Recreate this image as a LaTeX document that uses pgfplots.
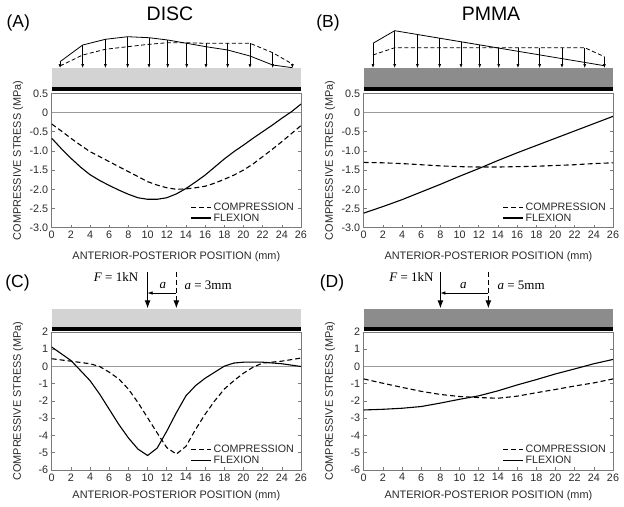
\documentclass[border=0pt]{standalone}
\usepackage{fontspec}
\setmainfont{Liberation Sans}
\newfontfamily\timesfont{Liberation Serif}
\usepackage{pgfplots}
\pgfplotsset{compat=1.18}
\usetikzlibrary{arrows.meta}
\definecolor{txt}{HTML}{2A2A2A}
\definecolor{frame}{HTML}{7A7A7A}
\definecolor{zeroline}{HTML}{9A9A9A}
\definecolor{lightblock}{HTML}{D3D3D3}
\definecolor{darkblock}{HTML}{8C8C8C}
\pgfplotsset{
  stressaxis/.style={
    scale only axis, width=249.3bp,
    xmin=0, xmax=26, xtick={0,2,...,26},
    axis line style={frame, line width=0.6bp},
    every tick/.style={frame, line width=0.6bp},
    major tick length=3bp, tick align=inside,
    xtick pos=left, ytick pos=both,
    ticklabel style={font=\fontsize{10.8bp}{12bp}\selectfont, text=txt},
    /pgf/number format/assume math mode=true,
    xlabel={ANTERIOR-POSTERIOR POSITION (mm)},
    ylabel={COMPRESSIVE STRESS (MPa)},
    label style={font=\fontsize{10.9bp}{12bp}\selectfont, text=txt},
    ylabel style={at={(axis description cs:-0.135,0.5)}, anchor=center},
    legend style={draw=none, fill=none, font=\fontsize{10.7bp}{11bp}\selectfont, text=txt,
      at={(axis description cs:1,0)}, anchor=south east, xshift=-5bp, yshift=3bp,
      row sep=-2.5bp, inner sep=0pt},
    legend image code/.code={\draw[#1] (0bp,0bp) -- (20bp,0bp);},
    legend cell align=left,
  },
  diagaxis/.style={
    scale only axis, width=249.3bp, hide axis, clip=false,
    xmin=0, xmax=26,
  },
  solidcurve/.style={black, line width=1.1bp},
  dashcurve/.style={black, line width=1.1bp, dash pattern=on 5bp off 3bp},
}
\begin{document}
\begin{tikzpicture}
\path[use as bounding box] (0bp,0bp) rectangle (624bp,-507bp);

% titles
\node[font=\fontsize{17.5bp}{20bp}\selectfont] at (18.3bp,-23.3bp) {(A)};
\node[font=\fontsize{17.5bp}{20bp}\selectfont] at (328bp,-23.3bp) {(B)};
\node[font=\fontsize{17.5bp}{20bp}\selectfont] at (17.5bp,-282.5bp) {(C)};
\node[font=\fontsize{17.5bp}{20bp}\selectfont] at (332bp,-282.5bp) {(D)};
\node[font=\fontsize{19.5bp}{22bp}\selectfont] at (170bp,-14bp) {DISC};
\node[font=\fontsize{19.5bp}{22bp}\selectfont] at (491bp,-14bp) {PMMA};

% ---------- Panel A diagram ----------
\begin{axis}[diagaxis, at={(51.7bp,-92bp)}, anchor=south west, height=92bp, ymin=-92, ymax=0]
\addplot[fill=lightblock, draw=none] coordinates {(0,-68) (26,-68) (26,-86.5) (0,-86.5)} -- cycle;
\addplot[black, line width=3.6bp] coordinates {(0,-88.7) (26,-88.7)};
\addplot[solidcurve, line width=0.8bp] coordinates {(0.87,-61.7) (3.23,-45) (5.6,-39.3) (7.92,-36.7) (10.15,-37.7) (12.1,-40) (14.08,-43.3) (16.09,-46.7) (18.35,-50) (20.68,-56) (23.05,-65) (25.1,-67.7)};
\addplot[dashcurve, line width=0.8bp, dash pattern=on 4bp off 2.5bp] coordinates {(0.87,-66) (3.23,-55) (5.6,-49.3) (7.92,-46.7) (10.15,-44.3) (12.1,-42.7) (14.08,-42.7) (16.09,-43.3) (18.35,-43.3) (20.68,-43.3) (23.05,-52.7) (25.1,-64)};
\addplot[black, line width=0.6bp, -{Latex[length=4bp,width=3bp]}, quiver={u=0, v=\thisrow{v}}] table {
x y v
0.87 -61.7 -6.3
3.23 -45 -23
5.6 -39.3 -28.7
7.92 -36.7 -31.3
10.15 -37.7 -30.3
12.1 -40 -28
14.08 -42.7 -25.3
16.09 -43.3 -24.7
18.35 -43.3 -24.7
20.68 -43.3 -24.7
23.05 -52.7 -15.3
25.1 -64 -4
};
\end{axis}

% ---------- Panel B diagram ----------
\begin{axis}[diagaxis, at={(363.7bp,-92bp)}, anchor=south west, height=92bp, ymin=-92, ymax=0]
\addplot[fill=darkblock, draw=none] coordinates {(0,-68) (26,-68) (26,-86.5) (0,-86.5)} -- cycle;
\addplot[black, line width=3.6bp] coordinates {(0,-88.7) (26,-88.7)};
\addplot[solidcurve, line width=0.8bp] coordinates {(0.97,-43.3) (3.23,-30.7) (25.1,-65.7)};
\addplot[dashcurve, line width=0.8bp, dash pattern=on 4bp off 2.5bp] coordinates {(0.97,-55) (3.23,-47.7) (23.05,-47.7) (25.1,-56.7)};
\addplot[black, line width=0.6bp, -{Latex[length=4bp,width=3bp]}, quiver={u=0, v=\thisrow{v}}] table {
x y v
0.97 -43.3 -24.7
3.23 -30.7 -37.3
5.6 -34.5 -33.5
7.92 -38.2 -29.8
10.15 -41.8 -26.2
12.1 -44.9 -23.1
14.08 -47.7 -20.3
16.09 -47.7 -20.3
18.35 -47.7 -20.3
20.68 -47.7 -20.3
23.05 -47.7 -20.3
25.1 -56.7 -11.3
};
\end{axis}

% ---------- Panel A ----------
\begin{axis}[stressaxis, at={(51.7bp,-227.7bp)}, anchor=south west, height=134.4bp,
  ymin=-3, ymax=0.5, ytick={-3,-2.5,-2,-1.5,-1,-0.5,0,0.5},
  yticklabels={-3.0,-2.5,-2.0,-1.5,-1.0,-0.5,0,0.5},
  xlabel style={at={(axis description cs:0.5,0)}, anchor=center, yshift=-29.3bp}]
\addplot[zeroline, line width=0.7bp, forget plot] coordinates {(0,0) (26,0)};
\addplot[dashcurve] coordinates {(0,-0.30) (1,-0.48) (2,-0.67) (3,-0.85) (4,-1.02) (5,-1.15) (6,-1.28) (7,-1.41) (8,-1.54) (9,-1.67) (10,-1.80) (11,-1.89) (12,-1.96) (13,-2.00) (14,-1.99) (15,-1.96) (16,-1.92) (17,-1.84) (18,-1.74) (19,-1.63) (20,-1.50) (21,-1.34) (22,-1.15) (23,-0.96) (24,-0.76) (25,-0.55) (26,-0.34)};
\addlegendentry{COMPRESSION}
\addplot[solidcurve] coordinates {(0,-0.67) (1,-0.94) (2,-1.19) (3,-1.42) (4,-1.62) (5,-1.77) (6,-1.90) (7,-2.02) (8,-2.13) (9,-2.22) (10,-2.26) (11,-2.26) (12,-2.22) (13,-2.12) (14,-1.98) (15,-1.81) (16,-1.63) (17,-1.42) (18,-1.21) (19,-1.02) (20,-0.85) (21,-0.67) (22,-0.50) (23,-0.33) (24,-0.15) (25,0.02) (26,0.22)};
\addlegendentry{FLEXION}
\end{axis}

% ---------- Panel B ----------
\begin{axis}[stressaxis, at={(363.7bp,-227.7bp)}, anchor=south west, height=134.4bp,
  ymin=-3, ymax=0.5, ytick={-3,-2.5,-2,-1.5,-1,-0.5,0,0.5},
  yticklabels={-3.0,-2.5,-2.0,-1.5,-1.0,-0.5,0,0.5},
  xlabel style={at={(axis description cs:0.5,0)}, anchor=center, yshift=-29.3bp}]
\addplot[zeroline, line width=0.7bp, forget plot] coordinates {(0,0) (26,0)};
\addplot[dashcurve] coordinates {(0,-1.30) (2,-1.31) (4,-1.33) (6,-1.36) (8,-1.39) (10,-1.41) (12,-1.42) (14,-1.42) (16,-1.41) (18,-1.40) (20,-1.38) (22,-1.36) (24,-1.33) (26,-1.31)};
\addlegendentry{COMPRESSION}
\addplot[solidcurve] coordinates {(0,-2.62) (2,-2.45) (4,-2.27) (6,-2.07) (8,-1.87) (10,-1.66) (12,-1.46) (14,-1.25) (16,-1.05) (18,-0.86) (20,-0.67) (22,-0.48) (24,-0.29) (26,-0.10)};
\addlegendentry{FLEXION}
\end{axis}

% ---------- Panel C diagram ----------
\begin{axis}[diagaxis, at={(51.7bp,-331bp)}, anchor=south west, height=69bp, ymin=-331, ymax=-262]
\addplot[fill=lightblock, draw=none] coordinates {(0,-309.3) (26,-309.3) (26,-327.3) (0,-327.3)} -- cycle;
\addplot[black, line width=3.4bp] coordinates {(0,-329) (26,-329)};
\addplot[black, line width=1bp, -{Latex[length=8bp,width=6bp]}] coordinates {(10,-271.7) (10,-308.3)};
\addplot[black, line width=1bp, dash pattern=on 5bp off 3bp, -{Latex[length=8bp,width=6bp]}] coordinates {(13,-271.7) (13,-308.3)};
\addplot[black, line width=0.6bp, {Latex[length=5bp,width=3.5bp]}-] coordinates {(10,-293) (13,-293)};
\node[anchor=east, font=\timesfont\fontsize{13bp}{14bp}\selectfont] at (axis cs:9.39,-277) {\textit{F} = 1kN};
\node[font=\timesfont\fontsize{13bp}{14bp}\selectfont] at (axis cs:11.6,-285.5) {\textit{a}};
\node[anchor=west, font=\timesfont\fontsize{13bp}{14bp}\selectfont] at (axis cs:13.5,-285.5) {\textit{a} = 3mm};
\end{axis}

% ---------- Panel D diagram ----------
\begin{axis}[diagaxis, at={(363.7bp,-331bp)}, anchor=south west, height=69bp, ymin=-331, ymax=-262]
\addplot[fill=darkblock, draw=none] coordinates {(0,-309.3) (26,-309.3) (26,-327.3) (0,-327.3)} -- cycle;
\addplot[black, line width=3.4bp] coordinates {(0,-329) (26,-329)};
\addplot[black, line width=1bp, -{Latex[length=8bp,width=6bp]}] coordinates {(8,-271.7) (8,-308.3)};
\addplot[black, line width=1bp, dash pattern=on 5bp off 3bp, -{Latex[length=8bp,width=6bp]}] coordinates {(13,-271.7) (13,-308.3)};
\addplot[black, line width=0.6bp, {Latex[length=5bp,width=3.5bp]}-] coordinates {(8,-293) (13,-293)};
\node[anchor=east, font=\timesfont\fontsize{13bp}{14bp}\selectfont] at (axis cs:7.65,-277) {\textit{F} = 1kN};
\node[font=\timesfont\fontsize{13bp}{14bp}\selectfont] at (axis cs:10.4,-285.5) {\textit{a}};
\node[anchor=west, font=\timesfont\fontsize{13bp}{14bp}\selectfont] at (axis cs:13.6,-285.5) {\textit{a} = 5mm};
\end{axis}

% ---------- Panel C ----------
\begin{axis}[stressaxis, at={(51.7bp,-470bp)}, anchor=south west, height=138bp,
  ymin=-6, ymax=2, ytick={-6,-5,-4,-3,-2,-1,0,1,2},
  yticklabels={-6,-5,-4,-3,-2,-1,0,1,2},
  xlabel style={at={(axis description cs:0.5,0)}, anchor=center, yshift=-26bp}]
\addplot[zeroline, line width=0.7bp, forget plot] coordinates {(0,0) (26,0)};
\addplot[dashcurve] coordinates {(0,0.45) (2,0.31) (4,0.16) (5,0.0) (6,-0.33) (7,-0.72) (8,-1.31) (9,-2.09) (10,-2.97) (11,-3.85) (12,-4.70) (13,-5.08) (14,-4.63) (15,-3.65) (16,-2.77) (17,-1.99) (18,-1.31) (19,-0.82) (20,-0.39) (21,-0.04) (22,0.20) (24,0.31) (26,0.49)};
\addlegendentry{COMPRESSION}
\addplot[solidcurve] coordinates {(0,1.13) (1,0.74) (2,0.35) (3,-0.23) (4,-0.82) (5,-1.60) (6,-2.48) (7,-3.36) (8,-4.14) (9,-4.79) (10,-5.16) (11,-4.73) (12,-3.75) (13,-2.68) (14,-1.70) (15,-1.11) (16,-0.68) (17,-0.33) (18,0.02) (19,0.20) (20,0.25) (22,0.25) (24,0.16) (26,0.0)};
\addlegendentry{FLEXION}
\end{axis}

% ---------- Panel D ----------
\begin{axis}[stressaxis, at={(363.7bp,-470bp)}, anchor=south west, height=138bp,
  ymin=-6, ymax=2, ytick={-6,-5,-4,-3,-2,-1,0,1,2},
  yticklabels={-6,-5,-4,-3,-2,-1,0,1,2},
  xlabel style={at={(axis description cs:0.5,0)}, anchor=center, yshift=-26bp}]
\addplot[zeroline, line width=0.7bp, forget plot] coordinates {(0,0) (26,0)};
\addplot[dashcurve] coordinates {(0,-0.72) (2,-0.97) (4,-1.21) (6,-1.44) (8,-1.62) (10,-1.74) (12,-1.80) (14,-1.84) (16,-1.72) (18,-1.52) (20,-1.33) (22,-1.13) (24,-0.95) (26,-0.72)};
\addlegendentry{COMPRESSION}
\addplot[solidcurve] coordinates {(0,-2.52) (2,-2.48) (4,-2.42) (6,-2.32) (8,-2.12) (10,-1.90) (12,-1.70) (14,-1.41) (16,-1.07) (18,-0.76) (20,-0.43) (22,-0.14) (24,0.16) (26,0.41)};
\addlegendentry{FLEXION}
\end{axis}
\end{tikzpicture}
\end{document}
